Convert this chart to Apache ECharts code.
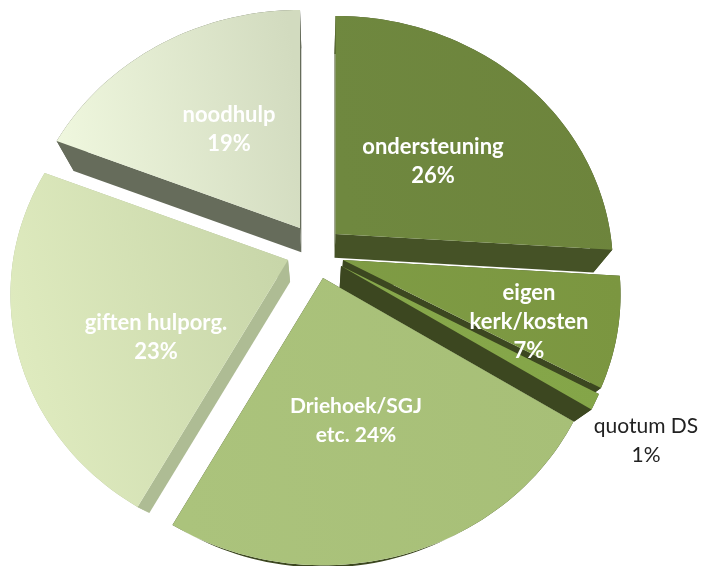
<!DOCTYPE html>
<html>
<head>
<meta charset="utf-8">
<style>html,body{margin:0;padding:0;background:#fff}#c{width:701px;height:566px}</style>
<script src="https://cdn.jsdelivr.net/npm/echarts@6/dist/echarts.min.js"></script>
</head>
<body>
<div id="c"></div>
<script>
const categories = ['ondersteuning', 'eigen kerk/kosten', 'quotum DS', 'Driehoek/SGJ etc.', 'giften hulporg.', 'noodhulp'];
const values = [26, 7, 1, 24, 23, 19];
const labelTexts = ['ondersteuning\n26%', 'eigen\nkerk/kosten\n7%', 'quotum DS\n1%', 'Driehoek/SGJ\netc. 24%', 'giften hulporg.\n23%', 'noodhulp\n19%'];

// Layout and style, kept apart from the data
const explode = [[20.5, -17], [28, 9], [26, 15], [8, 27], [-27, 9], [-15, -23]];
const labelAt = [[433, 161], [529, 322], [646, 441], [356, 421], [156, 337], [229, 129]];
const topFill = [
  ['#6f883f', '#6d843c'], ['#7f9c45', '#7b9640'], ['#87a84b', '#84a548'],
  ['#abc37c', '#a7bf77'], ['#dfebbf', '#c8d6a9'], ['#eff7de', '#d2dbbf']
];
const wallFill = ['#455226', '#3c4720', '#3c4720', '#3c4720', '#aebc94', '#666c5b'];
const labelColor = ['#fff', '#fff', '#222', '#fff', '#fff', '#fff'];
const labelFont = ['bold 22px Lato', 'bold 22px Lato', 'normal 21px Lato', 'bold 21px Lato', 'bold 22px Lato', 'bold 22px Lato'];
const drawOrder = [5, 4, 0, 1, 2, 3];
const CX = 315, CY = 251, DEPTH = 7.3, FX = 2007, FY = 1810;
const VX = 320, VY = 600, K = 0.065;

const total = values.reduce((a, b) => a + b, 0);
function project(angleDeg, radius, off) {
  const a = angleDeg * Math.PI / 180;
  const x = radius * Math.sin(a), y = radius * Math.cos(a);
  const w = DEPTH + y;
  return [CX + FX * x / w + off[0], CY - FY * y / w + off[1]];
}
const lower = p => [p[0] + K * (VX - p[0]), p[1] + K * (VY - p[1])];

function sliceAngles(i) {
  let sum = 0;
  for (let j = 0; j < i; j++) sum += values[j];
  return [sum / total * 360, (sum + values[i]) / total * 360];
}

function renderSlice(params, api) {
  const idx = drawOrder[params.dataIndex];
  const [a0, a1] = sliceAngles(idx);
  const off = explode[idx];
  const apex = project(0, 0, off);
  const arc = [];
  const n = Math.max(2, Math.ceil((a1 - a0) / 1.5));
  for (let i = 0; i <= n; i++) arc.push(project(a0 + (a1 - a0) * i / n, 1, off));
  const arcLow = arc.map(lower);
  const apexLow = lower(apex);
  const wall = wallFill[idx];
  const poly = (pts, fill) => ({ type: 'polygon', shape: { points: pts }, style: { fill: fill }, silent: true });
  const children = [
    poly(arc.concat(arcLow.slice().reverse()), wall),
    poly([apex, arc[0], arcLow[0], apexLow], wall),
    poly([apex, arc[n], arcLow[n], apexLow], wall),
    poly([apex].concat(arc), {
      type: 'linear', x: 0, y: 0.55, x2: 1, y2: 0.35,
      colorStops: [{ offset: 0, color: topFill[idx][0] }, { offset: 1, color: topFill[idx][1] }]
    })
  ];
  return { type: 'group', children: children };
}

function renderLabel(params, api) {
  const i = params.dataIndex;
  return {
    type: 'text',
    x: labelAt[i][0], y: labelAt[i][1],
    silent: true,
    style: {
      text: labelTexts[i], fill: labelColor[i], align: 'center', verticalAlign: 'middle',
      font: labelFont[i], lineHeight: 29
    }
  };
}

const chart = echarts.init(document.getElementById('c'), null, { renderer: 'canvas', width: 701, height: 566 });
chart.setOption({
  backgroundColor: '#fff',
  animation: false,
  series: [
    { type: 'custom', coordinateSystem: 'none', renderItem: renderSlice, z: 1,
      data: drawOrder.map(i => ({ name: categories[i], value: values[i] })) },
    { type: 'custom', coordinateSystem: 'none', renderItem: renderLabel, z: 2,
      data: categories.map((c, i) => ({ name: c, value: values[i] })) }
  ]
});
</script>
</body>
</html>
